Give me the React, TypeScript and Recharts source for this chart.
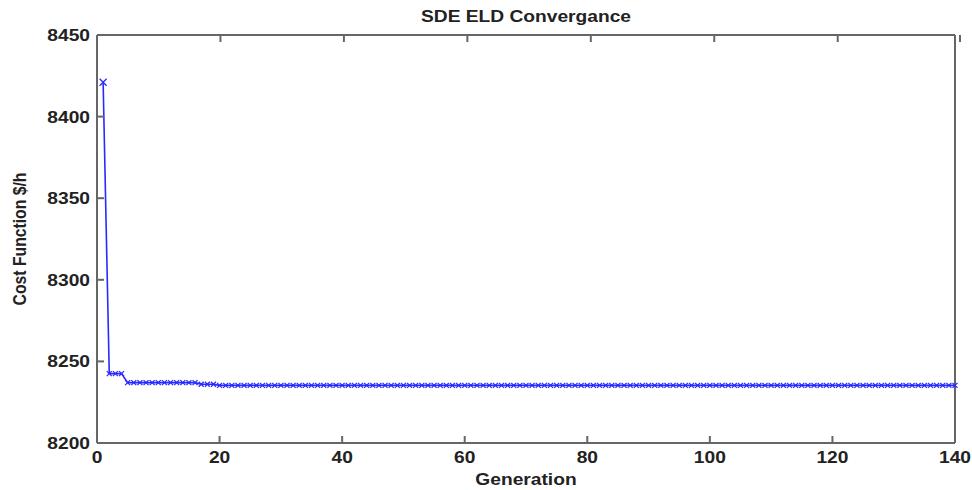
import React from 'react';
import { LineChart, Line, XAxis, YAxis } from 'recharts';

const generations = Array.from({ length: 140 }, (_, i) => i + 1);
const cost = [
  8421, 8242.5, 8242.5, 8242.5, 8237, 8237, 8237, 8237, 8237, 8237,
  8237, 8237, 8237, 8237, 8237, 8237, 8236, 8236, 8236, 8235.3,
  8235.3, 8235.3, 8235.3, 8235.3, 8235.3, 8235.3, 8235.3, 8235.3, 8235.3, 8235.3,
  8235.3, 8235.3, 8235.3, 8235.3, 8235.3, 8235.3, 8235.3, 8235.3, 8235.3, 8235.3,
  8235.3, 8235.3, 8235.3, 8235.3, 8235.3, 8235.3, 8235.3, 8235.3, 8235.3, 8235.3,
  8235.3, 8235.3, 8235.3, 8235.3, 8235.3, 8235.3, 8235.3, 8235.3, 8235.3, 8235.3,
  8235.3, 8235.3, 8235.3, 8235.3, 8235.3, 8235.3, 8235.3, 8235.3, 8235.3, 8235.3,
  8235.3, 8235.3, 8235.3, 8235.3, 8235.3, 8235.3, 8235.3, 8235.3, 8235.3, 8235.3,
  8235.3, 8235.3, 8235.3, 8235.3, 8235.3, 8235.3, 8235.3, 8235.3, 8235.3, 8235.3,
  8235.3, 8235.3, 8235.3, 8235.3, 8235.3, 8235.3, 8235.3, 8235.3, 8235.3, 8235.3,
  8235.3, 8235.3, 8235.3, 8235.3, 8235.3, 8235.3, 8235.3, 8235.3, 8235.3, 8235.3,
  8235.3, 8235.3, 8235.3, 8235.3, 8235.3, 8235.3, 8235.3, 8235.3, 8235.3, 8235.3,
  8235.3, 8235.3, 8235.3, 8235.3, 8235.3, 8235.3, 8235.3, 8235.3, 8235.3, 8235.3,
  8235.3, 8235.3, 8235.3, 8235.3, 8235.3, 8235.3, 8235.3, 8235.3, 8235.3, 8235.3,
];
const xTicks = [0, 20, 40, 60, 80, 100, 120, 140];
const yTicks = [8200, 8250, 8300, 8350, 8400, 8450];

const data = generations.map((g, i) => ({ gen: g, cost: cost[i] }));

const FONT = 'Liberation Sans, Arial, sans-serif';
const AXIS = '#666';
const TEXT = '#222';
const BLUE = '#2a2aff';
const SX = 1.2;

const BottomTick = (props: any) => {
  const { x, y, payload } = props;
  return (
    <g>
      <line x1={x} x2={x} y1={y} y2={y - 7} stroke={AXIS} strokeWidth={2} />
      <text transform={`translate(${x},${y + 20}) scale(${SX},1)`} textAnchor="middle"
        fontFamily={FONT} fontWeight="bold" fontSize={16} fill={TEXT}>{payload.value}</text>
    </g>
  );
};

const LeftTick = (props: any) => {
  const { x, y, payload } = props;
  return (
    <g>
      <line x1={x} x2={x + 7} y1={y} y2={y} stroke={AXIS} strokeWidth={2} />
      <text transform={`translate(${x - 7},${y + 6}) scale(${SX},1)`} textAnchor="end"
        fontFamily={FONT} fontWeight="bold" fontSize={16} fill={TEXT}>{payload.value}</text>
    </g>
  );
};

const TopTick = (props: any) => {
  const { x, y } = props;
  return <line x1={x} x2={x} y1={y} y2={y + 7} stroke={AXIS} strokeWidth={2} />;
};

const RightTick = (props: any) => {
  const { x, y } = props;
  return <line x1={x} x2={x - 7} y1={y} y2={y} stroke={AXIS} strokeWidth={2} />;
};

const Cross = (props: any) => {
  const { cx, cy } = props;
  if (cx == null || cy == null) return null;
  const r = props.index === 0 ? 3.5 : 2.5;
  return (
    <path d={`M${cx - r},${cy - r}L${cx + r},${cy + r}M${cx - r},${cy + r}L${cx + r},${cy - r}`}
      stroke={BLUE} strokeWidth={1.3} fill="none" />
  );
};

const App: React.FC = () => {
  return (
    <div style={{ position: 'absolute', left: 0, top: 0, width: 972, height: 490, background: '#fff' }}>
      <LineChart width={972} height={490} data={data} margin={{ top: 34, right: 16, bottom: 0, left: 0 }}>
        <XAxis dataKey="gen" type="number" domain={[0, 140]} ticks={xTicks} height={47}
          tickSize={0} tickMargin={0} tick={<BottomTick />} stroke={AXIS} strokeWidth={2} />
        <XAxis xAxisId="top" orientation="top" type="number" domain={[0, 140]} ticks={xTicks} height={1}
          tickSize={0} tickMargin={0} tick={<TopTick />} stroke={AXIS} strokeWidth={2} />
        <YAxis type="number" domain={[8200, 8450]} ticks={yTicks} width={97}
          tickSize={0} tickMargin={0} tick={<LeftTick />} stroke={AXIS} strokeWidth={2} />
        <YAxis yAxisId="right" orientation="right" type="number" domain={[8200, 8450]} ticks={yTicks} width={1}
          tickSize={0} tickMargin={0} tick={<RightTick />} stroke={AXIS} strokeWidth={2} />
        <Line type="linear" dataKey="cost" stroke={BLUE} strokeWidth={1.6} dot={<Cross />}
          activeDot={false} isAnimationActive={false} />
        <text transform={`translate(526,22) scale(${SX},1)`} textAnchor="middle"
          fontFamily={FONT} fontWeight="bold" fontSize={16} fill={TEXT}>SDE ELD Convergance</text>
        <text transform={`translate(526,485) scale(${SX},1)`} textAnchor="middle"
          fontFamily={FONT} fontWeight="bold" fontSize={16} fill={TEXT}>Generation</text>
        <text transform="translate(26,239) rotate(-90) scale(1.05,1.2)" textAnchor="middle"
          fontFamily={FONT} fontWeight="bold" fontSize={15} fill={TEXT}>Cost Function $/h</text>
      </LineChart>
    </div>
  );
};

export default App;
